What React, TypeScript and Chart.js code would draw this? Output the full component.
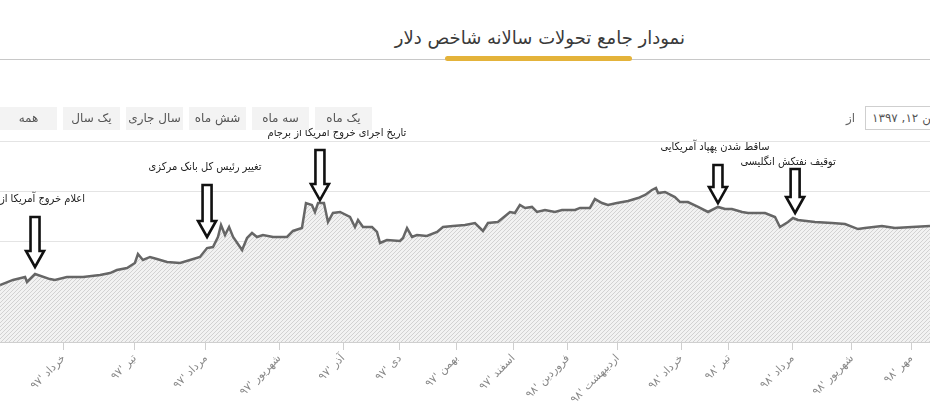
import React, { useEffect, useRef } from 'react';
import { Chart, registerables } from 'chart.js';
Chart.register(...registerables);

const title = 'نمودار جامع تحولات سالانه شاخص دلار';
const rangeButtons = ['یک ماه', 'سه ماه', 'شش ماه', 'سال جاری', 'یک سال', 'همه'];
const fromLabel = 'از';
const fromDate = 'فروردین ۱۲, ۱۳۹۷';

const days = [0, 5.5, 10.6, 11.4, 14.8, 21.1, 23.2, 28.3, 35.1, 42.3, 46.5, 49.4, 53.7, 57.0, 58.3, 60.4, 63.4, 66.3, 70.6, 76.1, 80.3, 84.5, 87.5, 90.0, 92.1, 93.4, 95.1, 96.8, 98.5, 102.3, 104.4, 106.5, 108.6, 111.1, 115.4, 121.3, 123.8, 127.6, 129.3, 131.8, 133.1, 134.4, 136.9, 138.6, 140.7, 143.7, 147.9, 150.0, 151.3, 153.4, 157.2, 159.3, 160.6, 163.5, 169.0, 170.3, 172.0, 174.1, 176.2, 180.4, 184.7, 187.2, 191.4, 196.5, 200.7, 204.1, 206.2, 210.4, 215.5, 217.6, 219.7, 221.9, 224.8, 226.9, 230.3, 234.5, 237.5, 243.0, 245.1, 249.3, 251.4, 254.4, 256.9, 260.7, 265.4, 269.6, 272.6, 275.5, 277.2, 278.1, 281.0, 285.2, 287.4, 290.7, 295.0, 299.2, 303.4, 306.4, 309.3, 313.6, 316.1, 323.3, 327.5, 329.6, 333.0, 335.1, 337.2, 344.4, 351.6, 357.1, 362.6, 365.5, 372.7, 378.2, 385.4, 393];
const values = [88.54, 88.94, 89.17, 88.78, 89.41, 89.01, 88.94, 89.17, 89.17, 89.33, 89.49, 89.73, 89.89, 90.29, 91.0, 90.53, 90.77, 90.61, 90.37, 90.29, 90.53, 90.77, 91.48, 91.56, 92.36, 93.31, 92.52, 93.15, 92.36, 91.32, 92.28, 92.68, 92.36, 92.52, 92.36, 92.36, 92.84, 93.07, 95.06, 94.91, 94.35, 95.06, 95.06, 93.55, 94.27, 94.35, 93.95, 93.15, 93.71, 93.15, 93.15, 92.76, 91.88, 92.12, 92.04, 92.28, 93.07, 92.36, 92.52, 92.44, 92.76, 93.15, 93.23, 93.31, 93.47, 92.84, 93.47, 93.55, 94.35, 94.27, 94.91, 94.67, 94.75, 94.35, 94.51, 94.35, 94.51, 94.51, 94.67, 94.67, 95.38, 95.06, 94.91, 95.06, 95.22, 95.46, 95.7, 96.1, 96.26, 95.86, 95.94, 95.54, 95.14, 95.14, 94.75, 94.35, 94.75, 94.59, 94.59, 94.35, 94.27, 94.27, 93.95, 93.15, 93.55, 93.87, 93.71, 93.55, 93.47, 93.39, 92.99, 93.07, 93.23, 93.07, 93.15, 93.23];

const tickDays = [27, 57, 87, 118, 145, 169, 193, 217, 240, 261, 288, 308, 335, 360, 385];
const tickLabels = ["خرداد '۹۷", "تیر '۹۷", "مرداد '۹۷", "شهریور '۹۷", "آذر '۹۷", "دی '۹۷", "بهمن '۹۷", "اسفند '۹۷", "فروردین '۹۸", "اردیبهشت '۹۸", "خرداد '۹۸", "تیر '۹۸", "مرداد '۹۸", "شهریور '۹۸", "مهر '۹۸"];

const eventDays = [14.8, 87.5, 135.2, 303.4, 336];
const eventTipValues = [89.97, 92.36, 95.3, 95.06, 94.27];
const eventLabels = ['اعلام خروج آمریکا از برجام', 'تغییر رئیس کل بانک مرکزی', 'تاریخ اجرای خروج آمریکا از برجام', 'ساقط شدن پهپاد آمریکایی', 'توقیف نفتکش انگلیسی'];

// drawing styles for the event markers (pixels)
const arrowLengths = [50, 52, 50, 38, 44];
const labelDx = [50, -2, 17, -3, -7];
const labelDy = [-18, -18, -17, -18, -7];
const labelAlign: CanvasTextAlign[] = ['right', 'center', 'center', 'center', 'center'];

function makeHatch(): CanvasPattern | string {
  const c = document.createElement('canvas');
  c.width = 4;
  c.height = 4;
  const g = c.getContext('2d');
  if (!g) return '#eee';
  g.fillStyle = '#f2f2f2';
  g.fillRect(0, 0, 4, 4);
  g.strokeStyle = '#d2d2d2';
  g.lineWidth = 1;
  g.beginPath();
  g.moveTo(0, 4); g.lineTo(4, 0);
  g.moveTo(-1, 1); g.lineTo(1, -1);
  g.moveTo(3, 5); g.lineTo(5, 3);
  g.stroke();
  return g.createPattern(c, 'repeat') || '#eee';
}

const eventPlugin = {
  id: 'eventArrows',
  afterDatasetsDraw(chart: any) {
    const { ctx, scales } = chart;
    const xs = scales.x, ys = scales.y;
    ctx.save();
    for (let i = 0; i < eventDays.length; i++) {
      const x = xs.getPixelForValue(eventDays[i]);
      const tip = ys.getPixelForValue(eventTipValues[i]);
      const top = tip - arrowLengths[i];
      const sw = 4.5, hw = 9, hh = 16;
      ctx.beginPath();
      ctx.moveTo(x - sw, top);
      ctx.lineTo(x + sw, top);
      ctx.lineTo(x + sw, tip - hh);
      ctx.lineTo(x + hw, tip - hh);
      ctx.lineTo(x, tip);
      ctx.lineTo(x - hw, tip - hh);
      ctx.lineTo(x - sw, tip - hh);
      ctx.closePath();
      ctx.fillStyle = '#ffffff';
      ctx.fill();
      ctx.lineWidth = 2.6;
      ctx.lineJoin = 'miter';
      ctx.strokeStyle = '#111';
      ctx.stroke();
      ctx.font = '11px "DejaVu Sans Condensed", "DejaVu Sans", sans-serif';
      ctx.fillStyle = '#222';
      ctx.textAlign = labelAlign[i];
      ctx.textBaseline = 'middle';
      ctx.direction = 'rtl';
      ctx.fillText(eventLabels[i], x + labelDx[i], top + labelDy[i]);
    }
    ctx.restore();
  },
};

function DollarChart() {
  const ref = useRef<HTMLCanvasElement | null>(null);
  useEffect(() => {
    if (!ref.current) return;
    const chart = new Chart(ref.current, {
      type: 'line',
      data: {
        datasets: [
          {
            data: days.map((d, i) => ({ x: d, y: values[i] })),
            borderColor: '#666',
            borderWidth: 2.5,
            pointRadius: 0,
            tension: 0,
            fill: 'start',
            backgroundColor: makeHatch() as any,
          },
        ],
      },
      options: {
        animation: false,
        responsive: true,
        maintainAspectRatio: false,
        layout: { padding: { top: 46, left: 0, right: 0, bottom: 0 } },
        plugins: { legend: { display: false }, tooltip: { enabled: false } },
        scales: {
          x: {
            type: 'linear',
            min: 0,
            max: 393,
            afterBuildTicks: (scale: any) => {
              scale.ticks = tickDays.map((v) => ({ value: v }));
            },
            afterFit: (scale: any) => {
              scale.height = 75;
            },
            ticks: {
              autoSkip: false,
              minRotation: 45,
              maxRotation: 45,
              padding: 2,
              color: '#888',
              font: { size: 11, family: '"DejaVu Sans", sans-serif' },
              callback: (v: any) => {
                const k = tickDays.indexOf(Number(v));
                return k >= 0 ? tickLabels[k] : '';
              },
            },
            grid: { drawOnChartArea: false, drawTicks: true, tickLength: 8, color: '#cfcfcf' },
            border: { display: true, color: '#cfcfcf' },
          },
          y: {
            min: 84,
            max: 100,
            ticks: { display: false, stepSize: 4 },
            grid: { color: '#e4e4e4', drawTicks: false },
            border: { display: false },
            afterFit: (scale: any) => {
              scale.width = 0;
            },
          },
        },
      },
      plugins: [eventPlugin],
    });
    return () => chart.destroy();
  }, []);
  return (
    <div style={{ position: 'absolute', left: 0, top: 95, width: 930, height: 322 }}>
      <canvas ref={ref} />
    </div>
  );
}

export default function App() {
  const btnBase: React.CSSProperties = {
    width: 57,
    height: 23,
    background: '#f3f3f3',
    color: '#555',
    fontSize: 12,
    lineHeight: '23px',
    textAlign: 'center',
    direction: 'rtl',
  };
  const ordered = [...rangeButtons].reverse();
  return (
    <div
      style={{
        position: 'fixed',
        left: 0,
        top: 0,
        width: 930,
        height: 417,
        overflow: 'hidden',
        background: '#fff',
        fontFamily: '"DejaVu Sans", sans-serif',
      }}
    >
      <div
        style={{
          position: 'absolute',
          right: 245,
          top: 25,
          fontSize: 18,
          color: '#3a3a3a',
          direction: 'rtl',
          whiteSpace: 'nowrap',
          lineHeight: '26px',
        }}
      >
        {title}
      </div>
      <div style={{ position: 'absolute', left: 0, top: 59, width: 930, height: 1, background: '#c8c8c8' }} />
      <div style={{ position: 'absolute', left: 445, top: 56, width: 187, height: 5, borderRadius: 3, background: '#e4b33a' }} />
      <DollarChart />
      <div style={{ position: 'absolute', left: 0, top: 107, display: 'flex', gap: 6 }}>
        {ordered.map((b) => (
          <div key={b} style={btnBase}>
            {b}
          </div>
        ))}
      </div>
      <div style={{ position: 'absolute', left: 846, top: 107, fontSize: 12, color: '#666', lineHeight: '23px', direction: 'rtl' }}>
        {fromLabel}
      </div>
      <div
        style={{
          position: 'absolute',
          left: 865,
          top: 106,
          width: 110,
          height: 22,
          border: '1px solid #cfcfcf',
          fontSize: 12,
          color: '#555',
          lineHeight: '22px',
          direction: 'rtl',
          textAlign: 'left',
          paddingLeft: 6,
          whiteSpace: 'nowrap',
          background: '#fff',
        }}
      >
        {fromDate}
      </div>
    </div>
  );
}
